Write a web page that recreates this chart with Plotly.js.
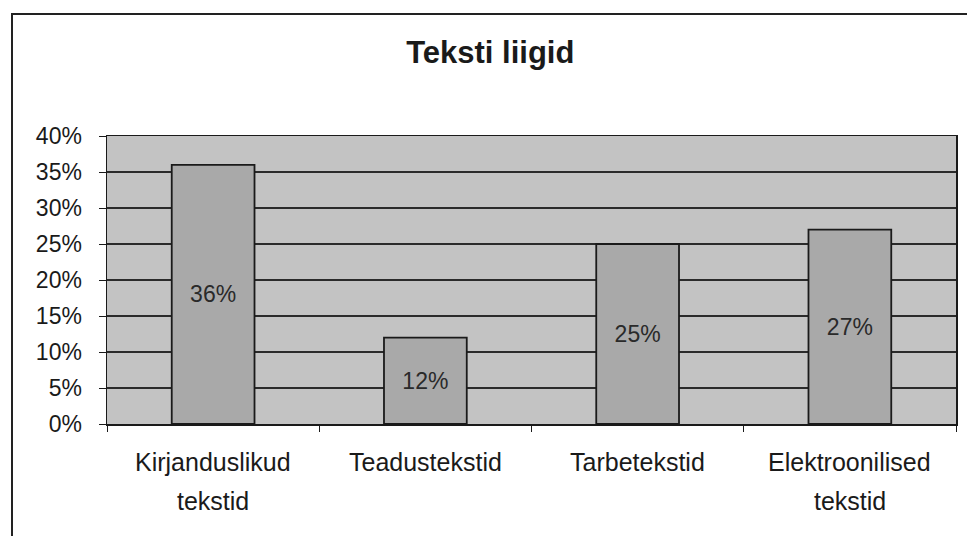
<!DOCTYPE html>
<html>
<head>
<meta charset="utf-8">
<script src="https://cdn.plot.ly/plotly-3.0.1.min.js"></script>
<style>
  html, body { margin: 0; padding: 0; background: #ffffff; }
  #chart { width: 967px; height: 536px; }
</style>
</head>
<body>
<div id="chart"></div>
<script>
// Data
const categories = ["Kirjanduslikud tekstid", "Teadustekstid", "Tarbetekstid", "Elektroonilised tekstid"];
const categoryLine1 = ["Kirjanduslikud", "Teadustekstid", "Tarbetekstid", "Elektroonilised"];
const categoryLine2 = ["tekstid", "", "", "tekstid"];
const values = [0.36, 0.12, 0.25, 0.27];
const valueLabels = ["36%", "12%", "25%", "27%"];
const yTickVals = [0, 0.05, 0.10, 0.15, 0.20, 0.25, 0.30, 0.35, 0.40];
const yTickText = ["0%", "5%", "10%", "15%", "20%", "25%", "30%", "35%", "40%"];

const W = 967, H = 536;
const M = { l: 107, r: 11, t: 136, b: 112 };
const pw = W - M.l - M.r, ph = H - M.t - M.b;
const px = X => (X - M.l) / pw;
const py = Y => (H - M.b - Y) / ph;
const FONT = "Liberation Sans, Arial, sans-serif";

const trace = {
  type: "bar",
  x: categories,
  y: values,
  text: valueLabels,
  textposition: "inside",
  insidetextanchor: "middle",
  textangle: 0,
  textfont: { family: FONT, size: 23, color: "#2a2a2a" },
  marker: { color: "#a9a9a9", line: { color: "#1a1a1a", width: 1.8 } },
  width: 0.39,
  hoverinfo: "skip"
};

const annotations = [];
categories.forEach((c, i) => {
  annotations.push({
    x: c, xref: "x", y: py(462), yref: "paper",
    text: categoryLine1[i], showarrow: false, xanchor: "center", yanchor: "middle",
    font: { family: FONT, size: 25, color: "#1a1a1a" }
  });
  if (categoryLine2[i]) {
    annotations.push({
      x: c, xref: "x", y: py(501), yref: "paper",
      text: categoryLine2[i], showarrow: false, xanchor: "center", yanchor: "middle",
      font: { family: FONT, size: 25, color: "#1a1a1a" }
    });
  }
});

const layout = {
  width: W, height: H,
  margin: M,
  paper_bgcolor: "#ffffff",
  plot_bgcolor: "#c3c3c3",
  showlegend: false,
  title: {
    text: "<b>Teksti liigid</b>",
    font: { family: FONT, size: 31, color: "#1a1a1a" },
    x: 0.507, xref: "container", xanchor: "center",
    y: 0.902, yref: "container", yanchor: "middle"
  },
  xaxis: {
    type: "category",
    showline: true, linecolor: "#1a1a1a", linewidth: 1.5, mirror: true,
    ticks: "outside", tickson: "boundaries", ticklen: 6, tickcolor: "#1a1a1a",
    showticklabels: false,
    showgrid: false, fixedrange: true
  },
  yaxis: {
    range: [0, 0.40],
    tickvals: yTickVals, ticktext: yTickText,
    showline: true, linecolor: "#1a1a1a", linewidth: 1.5, mirror: true,
    ticks: "outside", ticklen: 7, tickcolor: "#1a1a1a",
    tickfont: { family: FONT, size: 23, color: "#1a1a1a" },
    ticklabelstandoff: 12,
    showgrid: true, gridcolor: "#2a2a2a", gridwidth: 1.3,
    zeroline: false, fixedrange: true
  },
  annotations: annotations,
  shapes: [
    {
      type: "path", xref: "paper", yref: "paper",
      path: `M ${px(12)} ${py(540)} L ${px(12)} ${py(14)} L ${px(970)} ${py(14)}`,
      line: { color: "#222222", width: 2 }
    }
  ]
};

Plotly.newPlot("chart", [trace], layout, { displayModeBar: false, staticPlot: true });
</script>
</body>
</html>
